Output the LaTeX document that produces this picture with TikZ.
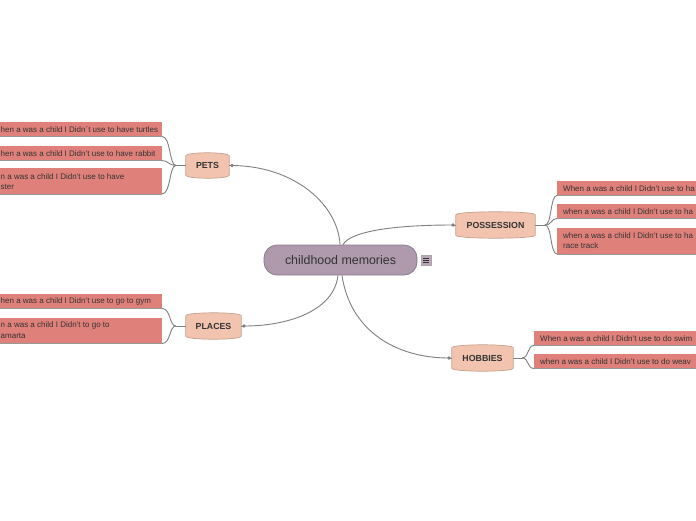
\documentclass[tikz,border=0pt]{standalone}
\usepackage{fontspec}
\setmainfont{Liberation Sans}
\definecolor{peach}{HTML}{F2C4B0}
\definecolor{peachline}{HTML}{C4A090}
\definecolor{salmon}{HTML}{E0807A}
\definecolor{mauve}{HTML}{AE99AD}
\definecolor{mauveline}{HTML}{8C7C8B}
\definecolor{conn}{HTML}{808080}
\definecolor{txt}{HTML}{333333}
\begin{document}
\begin{tikzpicture}[x=1pt,y=-1pt,
  mainnode/.style={draw=mauveline,fill=mauve,line width=0.8pt,rounded corners=13pt,minimum width=153pt,minimum height=30pt,inner sep=0pt,text=txt,font=\fontsize{12.4}{14}\selectfont},
  topic/.style={inner sep=0pt,minimum height=25pt,text=txt,font=\fontsize{8.8}{10}\selectfont\bfseries},
  leafbox/.style={fill=salmon,inner sep=0pt,minimum height=14.5pt},
  leafbox2/.style={fill=salmon,inner sep=0pt,minimum height=25.5pt},
  lt/.style={inner sep=0pt,text=txt,font=\fontsize{8}{9}\selectfont},
  conn/.style={draw=conn,line width=0.9pt},
  under/.style={draw=conn!80,line width=0.6pt},
  dot/.style={fill=conn,circle,inner sep=0pt,minimum size=3.6pt}
]
\useasboundingbox (0,0) rectangle (696,520);
\clip (0,0) rectangle (696,520);
\fill[white] (0,0) rectangle (696,520);

\newcommand\peachshape[1]{%
  \draw[fill=peach,draw=peachline,line width=0.7pt]
    ([yshift=-3pt]#1.north west) .. controls ([yshift=1pt]#1.north west) and ([yshift=1pt]#1.north east) .. ([yshift=-3pt]#1.north east)
    -- ([yshift=3pt]#1.south east) .. controls ([yshift=-1pt]#1.south east) and ([yshift=-1pt]#1.south west) .. ([yshift=3pt]#1.south west) -- cycle;}

% ---------- main node ----------
\node[mainnode] (main) at (340.5,260) {childhood memories};
\node[fill=mauve!85,draw=mauveline!70,line width=0.4pt,minimum size=10pt,inner sep=0pt] (ic) at (426,260.5) {};
\foreach \dy in {-2.2,0,2.2} \draw[txt,line width=0.7pt] ([xshift=-2.6pt,yshift=\dy pt]ic.center) -- ([xshift=2.6pt,yshift=\dy pt]ic.center);

% ---------- topic nodes ----------
\node[topic,minimum width=43pt] (pets) at (207.5,165.5) {};
\peachshape{pets}
\node[topic] at (pets) {PETS};

\node[topic,minimum width=55pt,minimum height=26pt] (places) at (213.5,326) {};
\peachshape{places}
\node[topic] at (places) {PLACES};

\node[topic,minimum width=79pt,minimum height=26pt] (poss) at (495.5,225) {};
\peachshape{poss}
\node[topic] at (poss) {POSSESSION};

\node[topic,minimum width=61pt,minimum height=26pt] (hob) at (482.5,358) {};
\peachshape{hob}
\node[topic] at (hob) {HOBBIES};

% ---------- main connectors ----------
\node[dot] (dpets) at (232,165.5) {};
\node[dot] (dplaces) at (244,326) {};
\node[dot] (dposs) at (453,225) {};
\node[dot] (dhob) at (449,358) {};
\draw[conn] (dpets.center) -- (pets.east);
\draw[conn] (dplaces.center) -- (places.east);
\draw[conn] (dposs.center) -- (poss.west);
\draw[conn] (dhob.center) -- (hob.west);
\draw[conn] ([xshift=-0.5pt]main.north) .. controls (338,205) and (295,166) .. (dpets.center);
\draw[conn] ([xshift=2.5pt]main.north) .. controls (350,232) and (390,225) .. (dposs.center);
\draw[conn] ([xshift=-2.5pt]main.south) .. controls (334,310) and (290,326) .. (dplaces.center);
\draw[conn] ([xshift=1.5pt]main.south) .. controls (350,330) and (395,358) .. (dhob.center);

% ---------- PETS leaves ----------
\node[leafbox,minimum width=172pt,anchor=south east] (p1) at (162,136.5) {};
\node[leafbox,minimum width=172pt,anchor=south east] (p2) at (162,160.5) {};
\node[leafbox2,minimum width=172pt,anchor=south east] (p3) at (162,194) {};
\node[lt,anchor=west] (p1t) at (0.5,129.5) {hen a was a child I Didn´t use to have turtles};
\node[lt,anchor=west] (p2t) at (0.5,153.5) {hen a was a child I Didn't use to have rabbit};
\node[lt,anchor=west] (p3t) at (0.5,176.5) {n a was a child I Didn't use to have};
\node[lt,anchor=west] (p3u) at (0.5,186.5) {ster};
\coordinate (pj) at (176,165.5);
\draw[conn] (pets.west) -- (pj);
\foreach \b in {p1,p2,p3} \draw[under] (\b.south west) -- (\b.south east);
\draw[conn] (pj) .. controls (169,165.5) and (171,136.5) .. (p1.south east);
\draw[conn] (pj) .. controls (169,165.5) and (168,160.5) .. (p2.south east);
\draw[conn] (pj) .. controls (169,165.5) and (171,194) .. (p3.south east);

% ---------- PLACES leaves ----------
\node[leafbox,minimum width=172pt,anchor=south east] (l1) at (162,308.5) {};
\node[leafbox2,minimum width=172pt,anchor=south east] (l2) at (162,343.5) {};
\node[lt,anchor=west] (l1t) at (0.5,301.5) {hen a was a child I Didn't use to go to gym};
\node[lt,anchor=west] (l2t) at (0.5,325.5) {n a was a child I Didn't to go to};
\node[lt,anchor=west] (l2u) at (0.5,335.5) {amarta};
\coordinate (lj) at (176,326);
\draw[conn] (places.west) -- (lj);
\foreach \b in {l1,l2} \draw[under] (\b.south west) -- (\b.south east);
\draw[conn] (lj) .. controls (169,326) and (171,308.5) .. (l1.south east);
\draw[conn] (lj) .. controls (169,326) and (171,343.5) .. (l2.south east);

% ---------- POSSESSION leaves ----------
\node[leafbox,minimum width=150pt,anchor=south west] (r1) at (557,195.5) {};
\node[leafbox,minimum width=150pt,anchor=south west] (r2) at (557,218.5) {};
\node[leafbox2,minimum width=150pt,anchor=south west] (r3) at (557,254) {};
\node[lt,anchor=west] (r1t) at (563,188.5) {When a was a child I Didn't use to ha};
\node[lt,anchor=west] (r2t) at (563,211.5) {when a was a child I Didn't use to ha};
\node[lt,anchor=west] (r3t) at (563,235.5) {when a was a child I Didn't use to ha};
\node[lt,anchor=west] (r3u) at (563,245.5) {race track};
\coordinate (rj) at (545,225);
\draw[conn] (poss.east) -- (rj);
\foreach \b in {r1,r2,r3} \draw[under] (\b.south west) -- (\b.south east);
\draw[conn] (rj) .. controls (552,225) and (550,195.5) .. (r1.south west);
\draw[conn] (rj) .. controls (552,225) and (551,218.5) .. (r2.south west);
\draw[conn] (rj) .. controls (552,225) and (550,254) .. (r3.south west);

% ---------- HOBBIES leaves ----------
\node[leafbox,minimum width=170pt,anchor=south west] (h1) at (534,345.5) {};
\node[leafbox,minimum width=170pt,anchor=south west] (h2) at (534,368.5) {};
\node[lt,anchor=west] (h1t) at (540,338.5) {When a was a child I Didn't use to do swim};
\node[lt,anchor=west] (h2t) at (540,361.5) {when a was a child I Didn't use to do weav};
\coordinate (hj) at (522,358);
\draw[conn] (hob.east) -- (hj);
\foreach \b in {h1,h2} \draw[under] (\b.south west) -- (\b.south east);
\draw[conn] (hj) .. controls (529,358) and (527,345.5) .. (h1.south west);
\draw[conn] (hj) .. controls (529,358) and (527,368.5) .. (h2.south west);
\end{tikzpicture}
\end{document}
